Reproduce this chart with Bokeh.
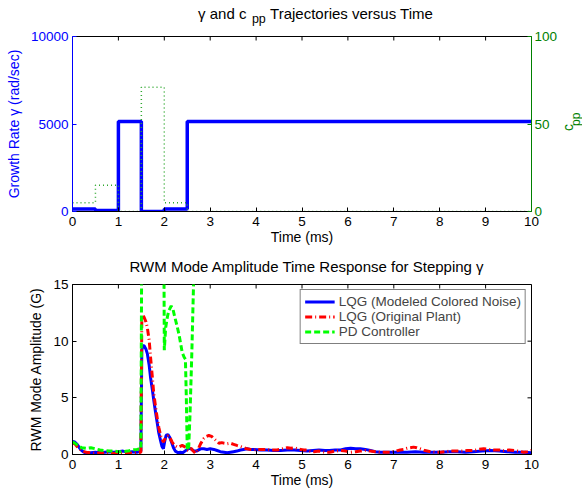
import math
from bokeh.plotting import figure
from bokeh.models import Range1d, LinearAxis, FixedTicker, Label, Legend, LegendItem
from bokeh.layouts import column, row
from bokeh.embed import file_html
from bokeh.resources import INLINE

FONT = "Liberation Sans"

# ---------------- data: top panel ----------------
t_gamma = [0.0, 0.5, 1.0, 1.5, 2.0, 2.5, 10.0]
gamma = [150, 60, 5150, 0, 150, 5150, 5150]
t_cpp = [0.0, 0.5, 1.0, 1.5, 2.0, 2.5, 10.0]
cpp = [5, 15, 0, 71, 5, 0, 0]

x_ticks = [0, 1, 2, 3, 4, 5, 6, 7, 8, 9, 10]
gamma_ticks = [0, 5000, 10000]
cpp_ticks = [0, 50, 100]
amp_ticks = [0, 5, 10, 15]

# ---------------- data: bottom panel ----------------
t_blue = [0.00, 0.05, 0.10, 0.15, 0.20, 0.25, 0.30, 0.40, 0.50, 0.60, 0.70, 0.80, 0.90,
          1.00, 1.10, 1.20, 1.30, 1.40, 1.49, 1.51, 1.53, 1.56, 1.60, 1.63, 1.67, 1.70,
          1.74, 1.77, 1.81, 1.85, 1.88, 1.92, 1.95, 1.98, 2.01, 2.04, 2.08, 2.12, 2.17,
          2.20, 2.24, 2.30, 2.35, 2.40, 2.45, 2.50, 2.55, 2.60, 2.65, 2.70, 2.79, 2.86,
          2.93, 3.00, 3.08, 3.15, 3.22, 3.30, 3.37, 3.44, 3.51, 3.58, 3.66, 3.73, 3.80,
          3.88, 3.95, 4.10, 4.24, 4.38, 4.53, 4.68, 4.83, 4.97, 5.11, 5.24, 5.37, 5.50,
          5.60, 5.72, 5.84, 5.95, 6.06, 6.17, 6.27, 6.38, 6.49, 6.60, 6.71, 6.82, 6.93,
          7.10, 7.29, 7.47, 7.65, 7.83, 8.02, 8.20, 8.38, 8.56, 8.74, 8.92, 9.11, 9.29,
          9.47, 9.65, 9.83, 10.0]
amp_blue = [1.15, 1.1, 0.9, 0.6, 0.35, 0.2, 0.1, 0.15, 0.2, 0.15, 0.2, 0.25, 0.2,
            0.25, 0.3, 0.2, 0.25, 0.2, 0.3, 9.2, 9.6, 9.6, 9.3, 8.9, 7.9, 6.8,
            5.7, 4.8, 3.7, 2.7, 1.9, 1.2, 0.7, 0.5, 1.2, 1.7, 1.75, 1.5, 0.95,
            0.6, 0.3, 0.15, 0.2, 0.15, 0.3, 0.45, 0.55, 0.45, 0.3, 0.3, 0.5, 0.5,
            0.45, 0.5, 0.45, 0.35, 0.25, 0.2, 0.15, 0.2, 0.25, 0.3, 0.4, 0.45, 0.5,
            0.45, 0.45, 0.4, 0.4, 0.35, 0.35, 0.4, 0.4, 0.35, 0.3, 0.35, 0.4, 0.35,
            0.35, 0.4, 0.4, 0.5, 0.55, 0.5, 0.5, 0.45, 0.35, 0.25, 0.2, 0.2, 0.2,
            0.2, 0.2, 0.25, 0.2, 0.2, 0.2, 0.25, 0.25, 0.2, 0.25, 0.3, 0.35, 0.3,
            0.25, 0.2, 0.2, 0.15]

t_red = [0.00, 0.05, 0.10, 0.15, 0.20, 0.25, 0.30, 0.40, 0.50, 0.60, 0.70, 0.80, 0.90,
         1.00, 1.10, 1.20, 1.30, 1.40, 1.49, 1.51, 1.53, 1.56, 1.60, 1.63, 1.67, 1.70,
         1.74, 1.77, 1.81, 1.85, 1.88, 1.93, 1.98, 2.03, 2.08, 2.12, 2.17, 2.22, 2.28,
         2.33, 2.39, 2.46, 2.50, 2.53, 2.58, 2.62, 2.68, 2.73, 2.79, 2.86, 2.92, 2.97,
         3.03, 3.08, 3.14, 3.19, 3.25, 3.30, 3.37, 3.44, 3.51, 3.58, 3.66, 3.73, 3.80,
         3.88, 3.95, 4.02, 4.10, 4.24, 4.35, 4.46, 4.57, 4.68, 4.76, 4.83, 4.90, 4.97,
         5.04, 5.11, 5.18, 5.26, 5.37, 5.50, 5.60, 5.72, 5.84, 5.95, 6.06, 6.17, 6.27,
         6.38, 6.49, 6.60, 6.71, 6.82, 6.93, 7.04, 7.14, 7.22, 7.29, 7.36, 7.43, 7.50,
         7.58, 7.68, 7.80, 7.91, 8.02, 8.13, 8.24, 8.35, 8.45, 8.60, 8.74, 8.85, 8.96,
         9.07, 9.18, 9.29, 9.40, 9.51, 9.62, 9.72, 9.83, 9.91, 10.0]
amp_red = [1.0, 0.95, 0.7, 0.5, 0.35, 0.25, 0.2, 0.15, 0.1, 0.15, 0.1, 0.15, 0.1,
           0.15, 0.1, 0.15, 0.1, 0.15, 0.2, 12.0, 12.3, 12.1, 11.7, 11.2, 10.1, 8.6,
           6.8, 5.4, 4.2, 3.1, 2.4, 1.5, 1.1, 1.5, 1.65, 1.5, 1.1, 0.8, 0.65,
           0.7, 0.8, 0.65, 0.4, 0.35, 0.55, 0.35, 0.1, 0.4, 0.94, 1.4, 1.6, 1.68,
           1.6, 1.4, 1.2, 1.0, 1.05, 1.0, 0.95, 1.0, 0.9, 0.8, 0.7, 0.6, 0.5,
           0.45, 0.4, 0.45, 0.45, 0.45, 0.4, 0.4, 0.5, 0.6, 0.55, 0.6, 0.5, 0.45,
           0.4, 0.4, 0.3, 0.25, 0.3, 0.2, 0.2, 0.3, 0.35, 0.3, 0.2, 0.25, 0.3,
           0.35, 0.3, 0.25, 0.2, 0.2, 0.2, 0.3, 0.4, 0.45, 0.55, 0.6, 0.65, 0.6,
           0.5, 0.35, 0.25, 0.2, 0.2, 0.25, 0.3, 0.3, 0.3, 0.35, 0.35, 0.45, 0.5,
           0.45, 0.4, 0.4, 0.35, 0.4, 0.35, 0.3, 0.2, 0.25, 0.35]

t_green = [0.00, 0.05, 0.10, 0.15, 0.20, 0.30, 0.40, 0.50, 0.60, 0.70, 0.80, 0.90,
           1.00, 1.10, 1.20, 1.30, 1.40, 1.49, 1.52, 1.75, 1.98, 2.00, 2.03, 2.07,
           2.10, 2.15, 2.19, 2.23, 2.28, 2.32, 2.36, 2.39, 2.43, 2.46, 2.48, 2.50,
           2.53, 2.56, 2.60, 2.64, 2.70]
amp_green = [1.1, 1.0, 0.85, 0.7, 0.6, 0.55, 0.6, 0.5, 0.4, 0.35, 0.3, 0.3,
             0.25, 0.25, 0.3, 0.4, 0.45, 0.5, 30.0, 40.0, 30.0, 9.2, 11.2, 12.2,
             12.7, 13.1, 12.8, 12.1, 11.3, 10.6, 9.7, 9.0, 8.6, 8.4, 5.0, 0.4,
             0.5, 3.5, 9.0, 15.5, 30.0]

series_labels = ["LQG (Modeled Colored Noise)", "LQG (Original Plant)", "PD Controller"]

# ---------------- layout geometry (page pixels, page origin at 0,0) ----------------
W = 582
LEFT = 72
FRAME_W = 459
SIDE_W = 22
T1_H = 28
P1_H, P1_TOP, P1_BOT = 220, 8, 37
T2_H = 28
P2_H, P2_TOP, P2_BOT = 215, 8, 37
TICK = 4

BLUE = "#0000ff"
DKGREEN = "#008000"


def style_axis(ax, color, label_standoff=0, tick_standoff=5):
    ax.axis_line_color = color
    ax.axis_line_width = 1
    ax.major_tick_line_color = color
    ax.major_tick_in = TICK
    ax.major_tick_out = 0
    ax.minor_tick_line_color = None
    ax.major_label_text_color = color
    ax.major_label_text_font = FONT
    ax.major_label_text_font_size = "13.5px"
    ax.major_label_standoff = tick_standoff
    ax.axis_label_text_font = FONT
    ax.axis_label_text_font_size = "14px"
    ax.axis_label_text_font_style = "normal"
    ax.axis_label_text_color = color
    ax.axis_label_standoff = label_standoff


def text_strip(w, h):
    s = figure(width=w, height=h, x_range=Range1d(0, w), y_range=Range1d(0, h),
               output_backend="svg", toolbar_location=None,
               x_axis_location=None, y_axis_location=None,
               min_border=0, min_border_left=0, min_border_right=0,
               min_border_top=0, min_border_bottom=0)
    s.grid.visible = False
    s.outline_line_color = None
    s.background_fill_color = "white"
    s.border_fill_color = "white"
    return s


def strip_label(s, h, lx, ly, text, size, color="black", align="left", angle=0.0):
    s.add_layout(Label(x=lx, y=h - ly, text=text, text_font=FONT, text_font_size=size,
                       text_color=color, text_align=align, text_baseline="middle",
                       angle=angle))


# ---------------- title strip 1 (page y 0..28) ----------------
t1 = text_strip(W, T1_H)
strip_label(t1, T1_H, 220.5, 13.0, "\u03b3 and c", "15px", align="right")
strip_label(t1, T1_H, 227.5, 18.9, "pp", "12.5px", align="left")
strip_label(t1, T1_H, 250.5, 13.0, "Trajectories versus Time", "15px", align="left")

# ---------------- top figure ----------------
P1_W = W - SIDE_W
p1 = figure(width=P1_W, height=P1_H, x_range=Range1d(0, 10), y_range=Range1d(0, 10000),
            output_backend="svg", toolbar_location=None,
            min_border_left=LEFT, min_border_right=P1_W - LEFT - FRAME_W,
            min_border_top=P1_TOP, min_border_bottom=P1_BOT)
p1.extra_y_ranges = {"cpp": Range1d(0, 100)}
p1.grid.visible = False
p1.outline_line_color = None
p1.background_fill_color = "white"
p1.border_fill_color = "white"

p1.xaxis.ticker = FixedTicker(ticks=x_ticks)
p1.xaxis.axis_label = "Time (ms)"
style_axis(p1.xaxis[0], "black")
p1.yaxis.ticker = FixedTicker(ticks=gamma_ticks)
p1.yaxis.axis_label = "Growth Rate \u03b3 (rad/sec)"
style_axis(p1.yaxis[0], BLUE, label_standoff=6, tick_standoff=4)

ax_r1 = LinearAxis(y_range_name="cpp", ticker=FixedTicker(ticks=cpp_ticks))
style_axis(ax_r1, DKGREEN, tick_standoff=3)
p1.add_layout(ax_r1, "right")
ax_t1 = LinearAxis(ticker=FixedTicker(ticks=[]))
style_axis(ax_t1, "black")
p1.add_layout(ax_t1, "above")

p1_frame_h = P1_H - P1_TOP - P1_BOT
tick_y1 = TICK * 10000 / p1_frame_h
p1.segment(x0=x_ticks, y0=[10000] * len(x_ticks), x1=x_ticks,
           y1=[10000 - tick_y1] * len(x_ticks), line_color="black", line_width=1)

p1.step(t_gamma, gamma, mode="after", line_color=BLUE, line_width=3.5)
p1.step(t_cpp, cpp, mode="after", y_range_name="cpp", line_color="#2fa82f",
        line_width=1.5, line_dash="1 3")

# ---------------- side strip with the c_pp axis label ----------------
side = text_strip(SIDE_W, P1_H)
side_x0 = P1_W
side_y0 = T1_H
# empirical correction for the anchor of rotated labels
ROT_DY = 13
strip_label(side, P1_H, 567.0 - side_x0, 129.5 + ROT_DY - side_y0, "c", "14px",
            color=DKGREEN, align="center", angle=math.pi / 2)
strip_label(side, P1_H, 575.5 - side_x0, 119.0 + ROT_DY - side_y0, "pp", "12px",
            color=DKGREEN, align="center", angle=math.pi / 2)

# ---------------- title strip 2 ----------------
t2 = text_strip(W, T2_H)
t2_y0 = T1_H + P1_H
strip_label(t2, T2_H, 297.5, 266.2 - t2_y0,
            "RWM Mode Amplitude Time Response for Stepping \u03b3", "15px", align="center")

# ---------------- bottom figure ----------------
p2 = figure(width=W, height=P2_H, x_range=Range1d(0, 10), y_range=Range1d(0, 15),
            output_backend="svg", toolbar_location=None,
            min_border_left=LEFT, min_border_right=W - LEFT - FRAME_W,
            min_border_top=P2_TOP, min_border_bottom=P2_BOT)
p2.grid.visible = False
p2.outline_line_color = "black"
p2.outline_line_width = 1
p2.background_fill_color = "white"
p2.border_fill_color = "white"

p2.xaxis.ticker = FixedTicker(ticks=x_ticks)
p2.xaxis.axis_label = "Time (ms)"
style_axis(p2.xaxis[0], "black")
p2.yaxis.ticker = FixedTicker(ticks=amp_ticks)
p2.yaxis.axis_label = "RWM Mode Amplitude (G)"
style_axis(p2.yaxis[0], "black", label_standoff=6, tick_standoff=4)

p2_frame_h = P2_H - P2_TOP - P2_BOT
tick_y2 = TICK * 15 / p2_frame_h
tick_x2 = TICK * 10 / FRAME_W
p2.segment(x0=x_ticks, y0=[15] * len(x_ticks), x1=x_ticks,
           y1=[15 - tick_y2] * len(x_ticks), line_color="black", line_width=1)
p2.segment(x0=[10] * len(amp_ticks), y0=amp_ticks, x1=[10 - tick_x2] * len(amp_ticks),
           y1=amp_ticks, line_color="black", line_width=1)

r_blue = p2.line(t_blue, amp_blue, line_color=BLUE, line_width=3)
r_red = p2.line(t_red, amp_red, line_color="#ff0000", line_width=3, line_dash="7 3 1 3")
r_green = p2.line(t_green, amp_green, line_color="#00ff00", line_width=3, line_dash="6 3")

legend = Legend(items=[LegendItem(label=series_labels[0], renderers=[r_blue]),
                       LegendItem(label=series_labels[1], renderers=[r_red]),
                       LegendItem(label=series_labels[2], renderers=[r_green])],
                location="top_right", margin=5, padding=4, spacing=0,
                glyph_width=30, glyph_height=15, label_height=15, label_standoff=4,
                label_text_font=FONT, label_text_font_size="13.5px",
                border_line_color="black", border_line_width=1,
                background_fill_color="white", background_fill_alpha=1.0)
p2.add_layout(legend)

layout = column(t1, row(p1, side, spacing=0), t2, p2, spacing=0)
open("out.html", "w").write(file_html(layout, INLINE))
